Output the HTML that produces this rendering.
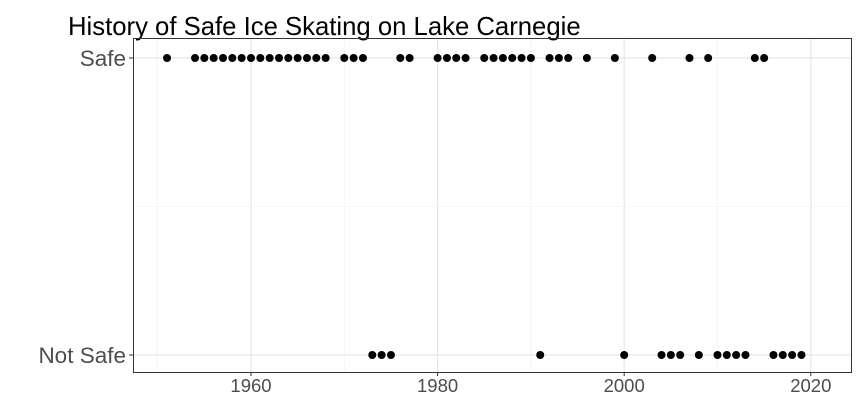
<!DOCTYPE html>
<html><head><meta charset="utf-8"><style>
body{margin:0;background:#fff;}
svg{display:block;font-family:"Liberation Sans",sans-serif;}
</style></head><body>
<svg width="862" height="402">
<text x="68" y="35" font-size="25.7" fill="#000">History of Safe Ice Skating on Lake Carnegie</text>
<g id="grid"></g>
<g id="pts"></g>
<rect x="133.5" y="38.5" width="718" height="334" fill="none" stroke="#333" stroke-width="1"/>
<g id="axes"></g>
</svg>
<script>
const safeYears=[1951,1954,1955,1956,1957,1958,1959,1960,1961,1962,1963,1964,1965,1966,1967,1968,1970,1971,1972,1976,1977,1980,1981,1982,1983,1985,1986,1987,1988,1989,1990,1992,1993,1994,1996,1999,2003,2007,2009,2014,2015];
const notSafeYears=[1973,1974,1975,1991,2000,2004,2005,2006,2008,2010,2011,2012,2013,2016,2017,2018,2019];
const categories=["Not Safe","Safe"];
const xTicks=[1960,1980,2000,2020];
const xMinor=[1950,1970,1990,2010];
const NS="http://www.w3.org/2000/svg";
const xs=y=>251+(y-1960)*9.33;
const ys=c=>c==="Safe"?58:355;
function mk(t,a,p){const e=document.createElementNS(NS,t);for(const k in a)e.setAttribute(k,a[k]);p.appendChild(e);return e;}
const g=document.getElementById('grid'),pg=document.getElementById('pts'),ag=document.getElementById('axes');
xMinor.forEach(v=>{const l=mk('line',{x1:xs(v),x2:xs(v),y1:38,y2:372,stroke:'#f0f0f0','stroke-width':0.6},g);

});
const l0=mk('line',{x1:133,x2:852,y1:206.5,y2:206.5,stroke:'#f0f0f0','stroke-width':0.6},g);


xTicks.forEach(v=>{const l=mk('line',{x1:xs(v),x2:xs(v),y1:38,y2:372,stroke:'#e6e6e6','stroke-width':1.2},g);


const t=mk('line',{x1:xs(v),x2:xs(v),y1:372,y2:376,stroke:'#333'},ag);


const tx=mk('text',{x:xs(v),y:392,'font-size':18.5,fill:'#4d4d4d','text-anchor':'middle'},ag);tx.textContent=v;

});
categories.forEach(c=>{const l=mk('line',{x1:133,x2:852,y1:ys(c),y2:ys(c),stroke:'#e6e6e6','stroke-width':1.2},g);


const t=mk('line',{x1:129,x2:133,y1:ys(c),y2:ys(c),stroke:'#333'},ag);


const tx=mk('text',{x:126,y:ys(c)+8,'font-size':22.5,fill:'#4d4d4d','text-anchor':'end'},ag);tx.textContent=c;

});
safeYears.forEach(v=>{const c=mk('circle',{cx:xs(v),cy:ys("Safe"),r:4,fill:'#000'},pg);

});
notSafeYears.forEach(v=>{const c=mk('circle',{cx:xs(v),cy:ys("Not Safe"),r:4,fill:'#000'},pg);

});
</script>
</body></html>
